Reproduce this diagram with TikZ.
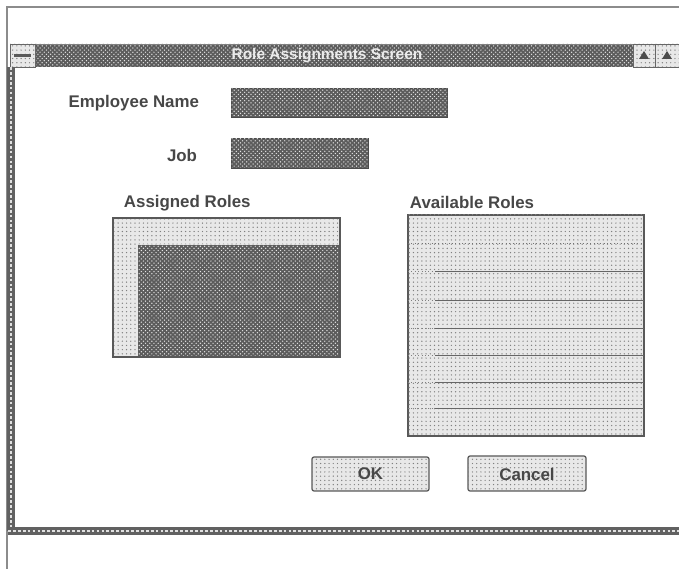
\documentclass[tikz,border=0pt]{standalone}
\usepackage{fontspec}
\setmainfont{Liberation Sans}
\usetikzlibrary{patterns}
\tikzset{
	hatch/.style={fill=black!64, postaction={pattern=crosshatch dots, pattern color=white!90!black}},
	dotfill/.style={fill=black!9, postaction={pattern=dots, pattern color=black!50}},
	rim/.style={draw=black!62, line width=5pt},
	rimdash/.style={draw=white!88!black, line width=1.6pt, dash pattern=on 2pt off 1.5pt},
	lbl/.style={font=\bfseries\fontsize{12}{14}\selectfont, text=black!72},
	ttl/.style={font=\bfseries\fontsize{11}{13}\selectfont, text=white!92!black},
	btn/.style={dotfill, draw=black!65, line width=0.9pt, rounded corners=1.5pt},
}

\begin{document}
\begin{tikzpicture}[x=0.025cm, y=-0.025cm]
	\useasboundingbox (0,0) rectangle (679,569);

	% screen edge
	\draw[black!45, line width=0.8pt] (7,569) -- (7,7) -- (679,7);

	% title bar
	\path[hatch] (10,44) rectangle (679,67);
	\draw[black!50, line width=0.6pt] (10,44) -- (679,44);
	\path[dotfill, draw=black!60, line width=0.6pt] (10,44) rectangle (35,67);
	\fill[black!65] (14,54) rectangle (31,57);
	\path[dotfill, draw=black!60, line width=0.6pt] (633,44) rectangle (655,67);
	\path[dotfill, draw=black!60, line width=0.6pt] (655,44) rectangle (679,67);
	\fill[black!70] (639,59) -- (644,51) -- (649,59) -- cycle;
	\fill[black!70] (662,59) -- (667,51) -- (672,59) -- cycle;
	\node[ttl] (title) at (327,56) {Role Assignments Screen};

	% window border
	\draw[rim] (11,67) -- (11,531);
	\draw[rimdash] (11,67) -- (11,531);
	\draw[rim] (8,531) -- (679,531);
	\draw[rimdash] (8,531) -- (679,531);

	% name and job
	\node[lbl, anchor=east] (empname) at (204,103) {Employee Name};
	\path[hatch, draw=black!70, line width=0.6pt] (231,88) rectangle (447,117);
	\node[lbl, anchor=east] (job) at (202,155) {Job};
	\path[hatch, draw=black!70, line width=0.6pt] (231,138) rectangle (368,168);

	% assigned roles
	\node[lbl, anchor=west] (assigned) at (119,203) {Assigned Roles};
	\path[dotfill, draw=black!65, line width=0.7pt] (113,218) rectangle (340,357);
	\path[hatch] (138,245) rectangle (340,357);
	\draw[black!65, line width=0.8pt] (113,218) rectangle (340,357);

	% available roles
	\node[lbl, anchor=west] (available) at (405,202) {Available Roles};
	\path[dotfill, draw=black!65, line width=0.8pt] (408,215) rectangle (644,436);
	\draw[black!55, dotted] (408,243) -- (644,243);
	\foreach \y in {271,300,328,355,382,408}{
		\draw[black!50, dotted] (408,\y) -- (435,\y);
		\draw[black!60, line width=0.7pt] (435,\y) -- (644,\y);
	}

	% buttons
	\path[btn] (312,457) rectangle (429,491);
	\node[lbl] (ok) at (370.5,474) {OK};
	\path[btn] (468,456) rectangle (586,491);
	\node[lbl] (cancel) at (527,474) {Cancel};
\end{tikzpicture}
\end{document}
